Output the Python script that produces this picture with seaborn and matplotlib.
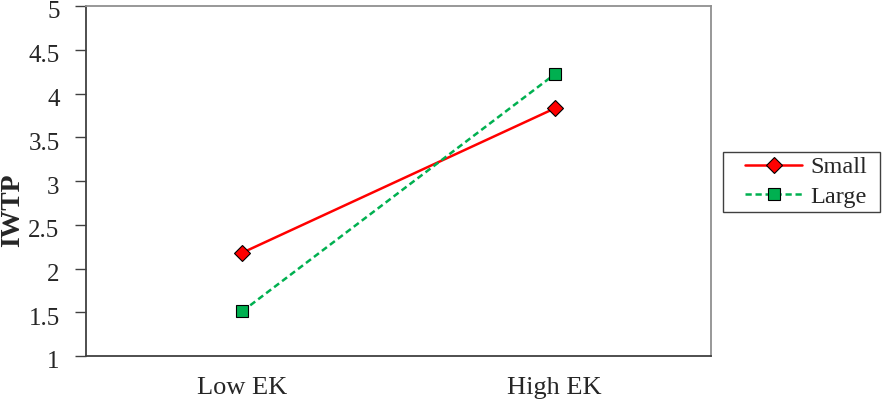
import pandas as pd
import matplotlib.pyplot as plt
import matplotlib.transforms as mtransforms
from matplotlib.patches import Rectangle
import seaborn as sns

conditions = ["Low EK", "High EK"]
small = [2.18, 3.83]
large = [1.51, 4.22]

df = pd.DataFrame({
    "EK": conditions * 2,
    "IWTP": small + large,
    "Size": ["Small"] * 2 + ["Large"] * 2,
})

sns.set_style("white")
plt.rcParams["font.family"] = ["Liberation Serif", "DejaVu Serif"]

W, H = 883, 401
fig = plt.figure(figsize=(W / 100, H / 100), dpi=100)
ax = fig.add_axes([86 / W, 1 - 356 / H, 625 / W, 350 / H])

palette = {"Small": "#FF0000", "Large": "#00B050"}
sns.lineplot(data=df, x="EK", y="IWTP", hue="Size", style="Size",
             palette=palette, markers={"Small": "D", "Large": "s"},
             dashes={"Small": "", "Large": (2.5, 1.5)}, markersize=8.5,
             markeredgecolor="black", markeredgewidth=0.8, linewidth=1.8,
             sort=False, ax=ax)

ax.set_xlim(-0.5, 1.5)
ax.set_ylim(1, 5)
ax.set_yticks([1, 1.5, 2, 2.5, 3, 3.5, 4, 4.5, 5])
ax.set_yticklabels(["1", "1.5", "2", "2.5", "3", "3.5", "4", "4.5", "5"], fontsize=18)
ax.set_xticks([0, 1])
ax.set_xticklabels(conditions, fontsize=19)
ax.set_xticks([-0.5, 0.5, 1.5], minor=True)
ax.tick_params(axis="x", which="major", length=0, pad=15)
ax.tick_params(axis="x", which="minor", length=8, width=1, color="#404040", direction="out")
ax.tick_params(axis="y", length=8, width=1, color="#404040", direction="out", pad=11, left=True)

# nudge y tick labels down a little, like the original
shift = mtransforms.ScaledTranslation(0, -4 / 100, fig.dpi_scale_trans)
for lab in ax.get_yticklabels():
    lab.set_transform(lab.get_transform() + shift)

ax.set_xlabel("")
ax.set_ylabel("IWTP", fontsize=20, fontweight="bold", va="center")
ax.yaxis.set_label_coords(-73 / 625, 1 - (210 - 6) / 350)

for side in ["left", "bottom"]:
    ax.spines[side].set_color("#404040")
    ax.spines[side].set_linewidth(1.3)
for side in ["top", "right"]:
    ax.spines[side].set_color("#909090")
    ax.spines[side].set_linewidth(1.3)

leg = ax.legend(loc="center left", bbox_to_anchor=(745 / W, 1 - 182 / H),
                bbox_transform=fig.transFigure, borderaxespad=0, borderpad=0,
                fontsize=17.5, frameon=False, handlelength=2.35,
                labelspacing=0.3, handletextpad=0.33)

fig.patches.append(Rectangle((723 / W, 1 - 212 / H), 157 / W, 60 / H,
                             transform=fig.transFigure, fill=False,
                             edgecolor="#404040", linewidth=1))

fig.savefig("out.png", dpi=100)
